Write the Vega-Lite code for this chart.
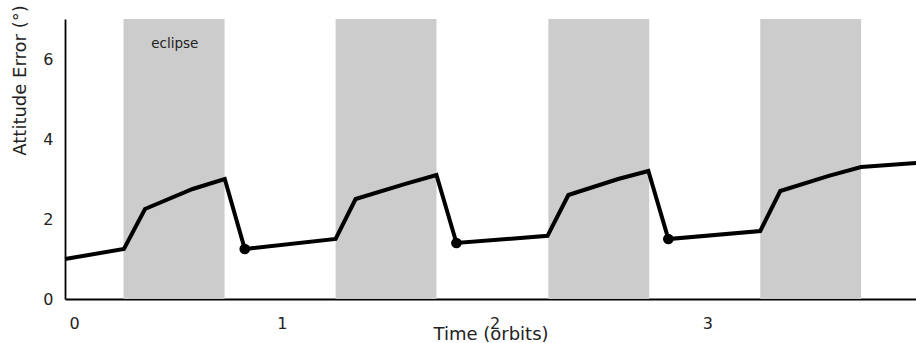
{
  "$schema": "https://vega.github.io/schema/vega-lite/v6.json",
  "width": 851,
  "height": 280,
  "autosize": "none",
  "padding": {"left": 65, "top": 19, "right": 0, "bottom": 44},
  "background": "white",
  "config": {
    "view": {"stroke": null},
    "font": "DejaVu Sans",
    "axis": {"grid": false, "ticks": false, "domainColor": "black", "domainWidth": 1.8, "labelFont": "DejaVu Sans", "titleFont": "DejaVu Sans", "labelColor": "#222", "titleColor": "#222", "titleFontWeight": "normal", "labelFontSize": 16, "titleFontSize": 18}
  },
  "datasets": {
    "bands": [
      {"start": 0.275, "end": 0.75},
      {"start": 1.272, "end": 1.746},
      {"start": 2.272, "end": 2.746},
      {"start": 3.268, "end": 3.742}
    ],
    "line": [
      {"t": 0.0, "err": 1.0},
      {"t": 0.277, "err": 1.25},
      {"t": 0.376, "err": 2.25},
      {"t": 0.6, "err": 2.75},
      {"t": 0.751, "err": 3.0},
      {"t": 0.845, "err": 1.25},
      {"t": 1.272, "err": 1.5},
      {"t": 1.366, "err": 2.5},
      {"t": 1.6, "err": 2.88},
      {"t": 1.746, "err": 3.1},
      {"t": 1.84, "err": 1.4},
      {"t": 2.268, "err": 1.58},
      {"t": 2.366, "err": 2.6},
      {"t": 2.6, "err": 3.0},
      {"t": 2.742, "err": 3.2},
      {"t": 2.836, "err": 1.5},
      {"t": 3.268, "err": 1.7},
      {"t": 3.362, "err": 2.7},
      {"t": 3.59, "err": 3.08},
      {"t": 3.742, "err": 3.3},
      {"t": 4.0, "err": 3.4}
    ],
    "dots": [
      {"t": 0.845, "err": 1.25},
      {"t": 1.84, "err": 1.4},
      {"t": 2.836, "err": 1.5}
    ],
    "labels": [
      {"t": 0.516, "err": 6.375, "label": "eclipse"}
    ]
  },
  "layer": [
    {
      "data": {"name": "bands"},
      "mark": {"type": "rect", "color": "#cccccc"},
      "encoding": {
        "x": {"field": "start", "type": "quantitative", "scale": {"domain": [0, 4], "nice": false}, "axis": {"values": [0, 1, 2, 3], "format": "d", "labelPadding": 16, "labelOffset": 4, "title": "Time (orbits)", "titleY": 40, "titleBaseline": "alphabetic"}},
        "x2": {"field": "end"}
      }
    },
    {
      "data": {"name": "line"},
      "mark": {"type": "line", "color": "black", "strokeWidth": 4, "strokeJoin": "miter"},
      "encoding": {
        "x": {"field": "t", "type": "quantitative"},
        "y": {"field": "err", "type": "quantitative", "scale": {"domain": [0, 7], "nice": false}, "axis": {"values": [0, 2, 4, 6], "labelPadding": 12, "title": "Attitude Error (°)", "titleAngle": 270, "titleX": -45, "titleY": 61, "titleAlign": "center", "titleBaseline": "middle"}}
      }
    },
    {
      "data": {"name": "dots"},
      "mark": {"type": "circle", "color": "black", "opacity": 1, "size": 115},
      "encoding": {
        "x": {"field": "t", "type": "quantitative"},
        "y": {"field": "err", "type": "quantitative"}
      }
    },
    {
      "data": {"name": "labels"},
      "mark": {"type": "text", "fontSize": 13.5, "color": "#222", "font": "DejaVu Sans"},
      "encoding": {
        "x": {"field": "t", "type": "quantitative"},
        "y": {"field": "err", "type": "quantitative"},
        "text": {"field": "label"}
      }
    }
  ]
}
